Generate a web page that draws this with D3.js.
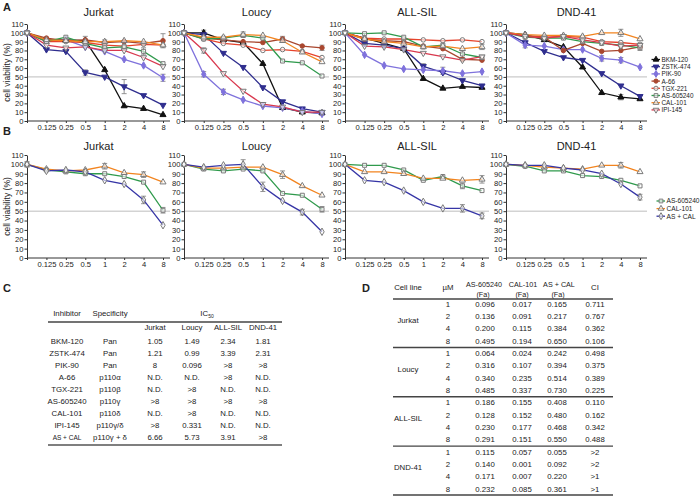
<!DOCTYPE html>
<html><head><meta charset="utf-8">
<script src="https://cdn.jsdelivr.net/npm/d3@7"></script>
<style>
body{margin:0;background:#fff}
svg{display:block}
text{font-family:"Liberation Sans",Arial,sans-serif;fill:#222}
</style>
</head><body>
<svg id="c" width="700" height="496"></svg>
<script>
// ---------------- DATA ----------------
const doses = ["0","0.125","0.25","0.5","1","2","4","8"];
const doseLabels = ["","0.125","0.25","0.5","1","2","4","8"];
const yTicks = [0,10,20,30,40,50,60,70,80,90,100,110];
const cellLines = ["Jurkat","Loucy","ALL-SIL","DND-41"];

const inhibitorsA = ["BKM-120","ZSTK-474","PIK-90","A-66","TGX-221","AS-605240","CAL-101","IPI-145"];
// rows follow inhibitorsA order
const viabilityA_Jurkat = [
  [100,92,92,91,58,17,14,7],
  [100,81,79,55,50,39,29,18],
  [100,91,92,84,79,70,63,49],
  [100,94,91,92,89,90,88,91],
  [100,90,90,89,86,85,87,86],
  [100,90,95,88,83,84,79,65],
  [100,92,91,90,90,91,90,86],
  [100,86,83,84,80,80,72,62]
];
const viabilityA_Loucy = [
  [100,100,92,89,65,15,10,9],
  [100,98,77,61,38,22,14,10],
  [100,53,33,24,17,15,11,8],
  [100,94,92,90,89,93,85,83],
  [100,93,88,86,80,81,79,72],
  [100,93,94,97,94,68,66,51],
  [100,95,95,98,97,91,78,67],
  [100,80,54,34,19,16,10,10]
];
const viabilityA_ALLSIL = [
  [100,94,88,82,48,37,39,38],
  [100,88,86,82,62,55,46,40],
  [100,75,63,59,58,57,54,56],
  [100,93,91,90,85,82,70,69],
  [100,94,93,93,92,91,92,90],
  [100,99,100,95,84,86,76,72],
  [100,93,90,88,84,85,82,84],
  [100,85,84,81,77,73,69,73]
];
const viabilityA_DND41 = [
  [100,98,92,84,61,32,27,25],
  [100,89,79,72,69,54,40,28],
  [100,86,85,81,81,71,69,61],
  [100,97,95,80,88,79,80,84],
  [100,96,95,96,95,90,89,87],
  [100,95,94,94,90,88,86,83],
  [100,98,97,97,96,100,100,93],
  [100,96,94,96,92,89,85,86]
];
const viabilityA = [viabilityA_Jurkat, viabilityA_Loucy, viabilityA_ALLSIL, viabilityA_DND41];
// [cell line index, inhibitor index, dose index, error]
const errorsA = [
  [0,1,5,8],[0,2,7,4],[0,3,7,8],[0,5,6,4],[0,0,3,5],[0,4,5,4],[0,1,3,3],[0,3,4,3],
  [1,7,1,3],[1,2,1,3],[1,2,2,3],[1,3,5,3],[1,3,7,3],[1,6,3,3],[1,0,1,3],
  [2,2,5,4],[2,1,4,3],[2,5,6,4],[2,6,7,3],
  [3,0,6,3],[3,2,5,3],[3,2,6,3],[3,6,6,4],[3,5,7,3],[3,2,1,3]
];

const inhibitorsB = ["AS-605240","CAL-101","AS + CAL"];
const viabilityB_Jurkat = [
  [100,94,92,90,90,87,81,51],
  [100,95,93,94,98,91,89,81],
  [100,93,94,92,83,79,62,35]
];
const viabilityB_Loucy = [
  [100,95,93,95,93,69,67,52],
  [100,96,96,97,97,89,77,67],
  [100,97,99,100,76,61,49,28]
];
const viabilityB_ALLSIL = [
  [100,99,99,94,83,87,77,72],
  [100,92,92,90,85,85,83,84],
  [100,83,81,72,60,53,53,45]
];
const viabilityB_DND41 = [
  [100,98,93,93,88,87,83,77],
  [100,99,97,96,95,99,99,92],
  [100,99,99,96,94,90,79,65]
];
const viabilityB = [viabilityB_Jurkat, viabilityB_Loucy, viabilityB_ALLSIL, viabilityB_DND41];
const errorsB = [
  [0,1,4,3],[0,1,6,3],[0,2,6,4],[0,0,7,3],[0,0,0,3],
  [1,2,3,5],[1,2,4,5],[1,1,5,4],[1,2,6,3],[1,0,7,3],
  [2,0,6,3],[2,2,6,4],[2,1,7,4],[2,2,7,3],
  [3,1,6,3],[3,2,7,3],[3,0,0,2]
];

// Table C
const tableC_inhibitors = ["BKM-120","ZSTK-474","PIK-90","A-66","TGX-221","AS-605240","CAL-101","IPI-145","AS + CAL"];
const tableC_specificity = ["Pan","Pan","Pan","p110α","p110β","p110γ","p110δ","p110γ/δ","p110γ + δ"];
const tableC_Jurkat = ["1.05","1.21","8","N.D.","N.D.",">8","N.D.",">8","6.66"];
const tableC_Loucy = ["1.49","0.99","0.096","N.D.",">8",">8",">8","0.331","5.73"];
const tableC_ALLSIL = ["2.34","3.39",">8",">8","N.D.",">8","N.D.","N.D.","3.91"];
const tableC_DND41 = ["1.81","2.31",">8","N.D.","N.D.",">8","N.D.","N.D.",">8"];

// Table D
const tableD_doses = ["1","2","4","8"];
const tableD_AS = [
  ["0.096","0.136","0.200","0.495"],
  ["0.064","0.316","0.340","0.485"],
  ["0.186","0.128","0.230","0.291"],
  ["0.115","0.140","0.171","0.232"]
];
const tableD_CAL = [
  ["0.017","0.091","0.115","0.194"],
  ["0.024","0.107","0.235","0.337"],
  ["0.155","0.152","0.177","0.151"],
  ["0.057","0.001","0.007","0.085"]
];
const tableD_ASCAL = [
  ["0.165","0.217","0.384","0.650"],
  ["0.242","0.394","0.514","0.730"],
  ["0.408","0.480","0.468","0.550"],
  ["0.055","0.092","0.220","0.361"]
];
const tableD_CI = [
  ["0.711","0.767","0.362","0.106"],
  ["0.498","0.375","0.389","0.225"],
  ["0.110","0.162","0.342","0.488"],
  [">2",">2",">1",">1"]
];

// ---------------- STYLES ----------------
const stylesA = {
  "BKM-120":  {color:"#111111", shape:"tri",  filled:true},
  "ZSTK-474": {color:"#2f2e8e", shape:"itri", filled:true},
  "PIK-90":   {color:"#7f72dc", shape:"dia",  filled:true},
  "A-66":     {color:"#a9472f", shape:"circ", filled:true},
  "TGX-221":  {color:"#e6432c", shape:"circ", filled:false},
  "AS-605240":{color:"#2f9a4c", shape:"sq",   filled:false},
  "CAL-101":  {color:"#f2841f", shape:"tri",  filled:false},
  "IPI-145":  {color:"#d9384e", shape:"itri", filled:false}
};
const stylesB = {
  "AS-605240":{color:"#2f9a4c", shape:"sq",  filled:false},
  "CAL-101":  {color:"#f2841f", shape:"tri", filled:false},
  "AS + CAL": {color:"#3635a6", shape:"dia", filled:false}
};

const svg = d3.select("#c");
const FONT = '"Liberation Sans",Arial,sans-serif';

function marker(g, cx, cy, st, size){
  let t, rot = 0;
  if (st.shape==="tri") t = d3.symbolTriangle;
  else if (st.shape==="itri") {t = d3.symbolTriangle; rot = 180;}
  else if (st.shape==="dia") t = d3.symbolDiamond;
  else if (st.shape==="sq") t = d3.symbolSquare;
  else t = d3.symbolCircle;
  g.append("path")
    .attr("d", d3.symbol().type(t).size(size)())
    .attr("transform", `translate(${cx},${cy}) rotate(${rot})`)
    .attr("fill", st.filled ? st.color : "#fff")
    .attr("fill-opacity", st.filled ? 1 : 0.6)
    .attr("stroke", st.filled ? st.color : "#7a7a7a")
    .attr("stroke-width", 1);
}

const panelX0 = [27,184,345,506];
const panelX8 = [163,322,482,640];

function drawPanel(ci, names, values, styles, errs, yZero, yTop, titleY, showYLabel){
  const g = svg.append("g");
  const x = d3.scalePoint().domain(doses).range([panelX0[ci], panelX8[ci]]);
  const y = d3.scaleLinear().domain([0,110]).range([yZero, yTop]);
  const xEnd = panelX8[ci] + 7;

  g.append("line").attr("x1", x("0")).attr("x2", xEnd)
    .attr("y1", y(50)).attr("y2", y(50))
    .attr("stroke", "#b5b5b5").attr("stroke-width", 0.9);

  const ya = g.append("g").attr("transform", `translate(${x("0")},0)`)
    .call(d3.axisLeft(y).tickValues(yTicks).tickSize(2.5).tickPadding(1).tickSizeOuter(0));
  ya.select(".domain").attr("stroke", "#333");
  ya.selectAll(".tick line").attr("stroke", "#333");
  ya.selectAll(".tick text").style("font-size", "7.6px").style("font-family", FONT).attr("fill", "#222");

  const xa = g.append("g").attr("transform", `translate(0,${yZero})`)
    .call(d3.axisBottom(x).tickFormat((d,i)=>doseLabels[i]).tickSize(2).tickPadding(2).tickSizeOuter(0));
  xa.select(".domain").remove();
  xa.selectAll(".tick line").attr("stroke", "#333");
  xa.selectAll(".tick text").style("font-size", "7.6px").style("font-family", FONT).attr("fill", "#222");
  g.append("line").attr("x1", x("0")).attr("x2", xEnd)
    .attr("y1", yZero).attr("y2", yZero).attr("stroke", "#333");

  g.append("text").attr("x", (x("0")+xEnd)/2).attr("y", titleY)
    .attr("text-anchor", "middle").style("font-size", "11px").text(cellLines[ci]);

  if (showYLabel){
    g.append("text").attr("transform", `translate(10,${(yZero+yTop)/2}) rotate(-90)`)
      .attr("text-anchor", "middle").style("font-size", "8.5px").text("cell viability (%)");
  }

  const line = d3.line().x((d,i)=>x(doses[i])).y(d=>y(d));
  errs.filter(e=>e[0]===ci).forEach(e=>{
    const v = values[e[1]][e[2]], xx = x(doses[e[2]]);
    g.append("path")
      .attr("d", `M${xx},${y(v-e[3])}V${y(v+e[3])}M${xx-2.5},${y(v-e[3])}H${xx+2.5}M${xx-2.5},${y(v+e[3])}H${xx+2.5}`)
      .attr("stroke", "#888").attr("stroke-width", 0.9).attr("fill", "none");
  });
  names.forEach((n,si)=>{
    g.append("path").datum(values[si]).attr("d", line)
      .attr("fill", "none").attr("stroke", styles[n].color).attr("stroke-width", 1.3);
  });
  names.forEach((n,si)=>{
    values[si].forEach((v,i)=> marker(g, x(doses[i]), y(v), styles[n], 16));
  });
}

for (let i=0;i<4;i++){
  drawPanel(i, inhibitorsA, viabilityA[i], stylesA, errorsA, 121, 24, 16, i===0);
  drawPanel(i, inhibitorsB, viabilityB[i], stylesB, errorsB, 258, 155, 150, i===0);
}

function legend(names, styles, lx, ly0, dy, fs){
  const g = svg.append("g");
  names.forEach((n,i)=>{
    const yy = ly0 + i*dy;
    g.append("line").attr("x1", lx-4.5).attr("x2", lx+4).attr("y1", yy).attr("y2", yy)
      .attr("stroke", styles[n].color).attr("stroke-width", 1.3);
    marker(g, lx, yy, styles[n], 14);
    g.append("text").attr("x", lx+5.5).attr("y", yy+2.4).style("font-size", fs+"px").text(n);
  });
}
legend(inhibitorsA, stylesA, 656, 59.5, 7.2, 6.4);
legend(inhibitorsB, stylesB, 661, 201, 7.6, 6.6);

[["A",3,11],["B",3,135],["C",3,292],["D",362,292]].forEach(l=>{
  svg.append("text").attr("x", l[1]).attr("y", l[2]).style("font-size", "11px")
    .style("font-weight", "bold").text(l[0]);
});

// ---------------- TABLE C ----------------
(function(){
  const g = svg.append("g").style("font-size", "7.8px");
  const cx = {inh:67, spec:110, j:155, l:192, a:228, d:263};
  g.append("text").attr("x", cx.inh).attr("y", 316).attr("text-anchor","middle").text("Inhibitor");
  g.append("text").attr("x", cx.spec).attr("y", 316).attr("text-anchor","middle").text("Specificity");
  const ic = g.append("text").attr("x", 207).attr("y", 316).attr("text-anchor","middle");
  ic.append("tspan").text("IC");
  ic.append("tspan").attr("dy", 2).style("font-size","5px").text("50");
  g.append("line").attr("x1",48).attr("x2",282).attr("y1",322).attr("y2",322)
    .attr("stroke","#444").attr("stroke-width",1.4);
  [["Jurkat",cx.j],["Loucy",cx.l],["ALL-SIL",cx.a],["DND-41",cx.d]].forEach(h=>{
    g.append("text").attr("x",h[1]).attr("y",330).attr("text-anchor","middle").text(h[0]);
  });
  const cols = [[tableC_Jurkat,cx.j],[tableC_Loucy,cx.l],[tableC_ALLSIL,cx.a],[tableC_DND41,cx.d]];
  tableC_inhibitors.forEach((n,i)=>{
    const yy = 344 + i*12.05;
    g.append("text").attr("x",cx.inh).attr("y",yy).attr("text-anchor","middle")
      .style("font-size", n==="AS + CAL" ? "6.5px" : null).text(n);
    g.append("text").attr("x",cx.spec).attr("y",yy).attr("text-anchor","middle").text(tableC_specificity[i]);
    cols.forEach(c=> g.append("text").attr("x",c[1]).attr("y",yy).attr("text-anchor","middle").text(c[0][i]));
  });
  g.append("line").attr("x1",48).attr("x2",282).attr("y1",445).attr("y2",445)
    .attr("stroke","#555").attr("stroke-width",1.6);
})();

// ---------------- TABLE D ----------------
(function(){
  const g = svg.append("g").style("font-size", "7.8px");
  const cx = {cell:408, um:448, as:485, cal:522, ac:557, ci:595};
  g.append("text").attr("x",cx.cell).attr("y",290).attr("text-anchor","middle").text("Cell line");
  g.append("text").attr("x",cx.um).attr("y",290).attr("text-anchor","middle").text("µM");
  [["AS-605240",484],["CAL-101",523],["AS + CAL",559]].forEach(h=>{
    g.append("text").attr("x",h[1]).attr("y",287).attr("text-anchor","middle").style("font-size","7.2px").text(h[0]);
    g.append("text").attr("x",h[1]-1).attr("y",296.5).attr("text-anchor","middle").style("font-size","7.2px").text("(Fa)");
  });
  g.append("text").attr("x",cx.ci).attr("y",290).attr("text-anchor","middle").text("CI");
  g.append("line").attr("x1",393).attr("x2",613).attr("y1",299).attr("y2",299)
    .attr("stroke","#444").attr("stroke-width",1.4);
  cellLines.forEach((c,gi)=>{
    const y0 = 304 + gi*49.3;
    g.append("text").attr("x",cx.cell).attr("y",y0+18.5).attr("text-anchor","middle").text(c);
    tableD_doses.forEach((d,ri)=>{
      const yy = y0 + ri*12.3 + 2.8;
      g.append("text").attr("x",cx.um).attr("y",yy).attr("text-anchor","middle").text(d);
      g.append("text").attr("x",cx.as).attr("y",yy).attr("text-anchor","middle").text(tableD_AS[gi][ri]);
      g.append("text").attr("x",cx.cal).attr("y",yy).attr("text-anchor","middle").text(tableD_CAL[gi][ri]);
      g.append("text").attr("x",cx.ac).attr("y",yy).attr("text-anchor","middle").text(tableD_ASCAL[gi][ri]);
      g.append("text").attr("x",cx.ci).attr("y",yy).attr("text-anchor","middle").text(tableD_CI[gi][ri]);
    });
    const ly = Math.min(y0 + 43.5, 495);
    g.append("line").attr("x1",393).attr("x2",613).attr("y1",ly).attr("y2",ly)
      .attr("stroke","#444").attr("stroke-width",1.4);
  });
})();
</script>
</body></html>
